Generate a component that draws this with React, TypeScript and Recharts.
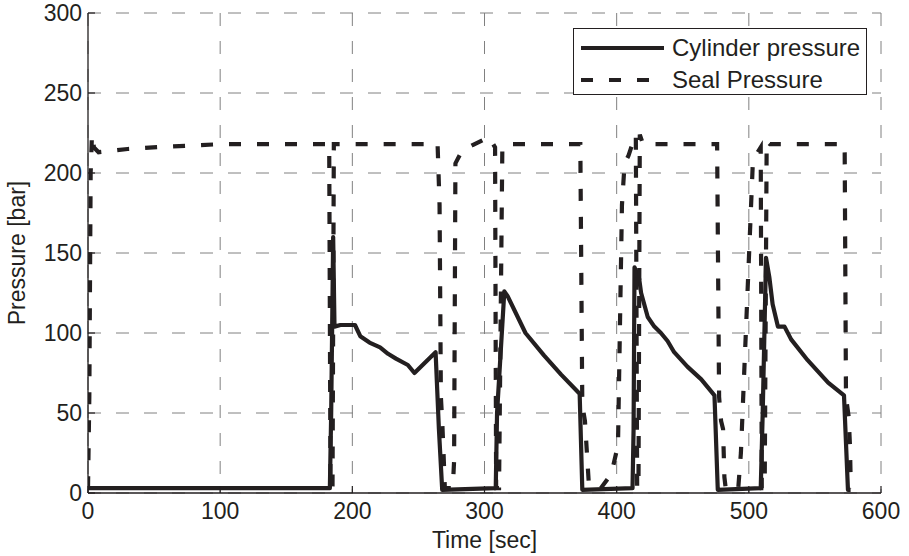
import React from 'react';
import { LineChart, Line, XAxis, YAxis, CartesianGrid, Legend, Label } from 'recharts';

// cylinder pressure trace [sec] / [bar]
const cylTime = [0, 183, 184, 185.5, 186.5, 191, 202, 206, 213, 221, 227, 233, 242, 247, 263, 265.5, 268, 308.5, 309.5, 315, 317.5, 331, 345, 358, 372, 374, 412, 412.8, 413.5, 417, 418.5, 423.5, 428.5, 433.5, 438.5, 443.5, 453.5, 464, 474, 476.5, 509, 510.5, 513, 515.5, 518, 522, 527, 532, 544.5, 560, 572, 575, 577];
const cylPressure = [3, 3, 50, 160, 104, 105, 105, 98, 94, 91, 87, 84, 80, 75, 88, 40, 2, 3, 50, 126, 123, 100, 86, 74, 62, 2, 3, 40, 141, 134, 125, 110, 104, 100, 95, 88, 79, 71, 61, 2, 3, 50, 147, 135, 118, 104, 104, 96, 83, 69, 61, 2, 2];

// seal pressure trace
const sealTime = [0, 1, 2, 3, 4.5, 8, 30, 60, 100, 182.5, 183.5, 185, 186, 190, 264.5, 266, 267, 268, 269, 270, 276, 277, 278, 283, 291, 303.5, 308, 308.8, 311, 313.5, 316, 372.5, 374, 376, 377.5, 379, 388, 396, 401, 404, 406, 409, 411, 413.5, 414.5, 415.5, 416.5, 417.5, 420, 476, 477.5, 479, 480.5, 481.5, 482.5, 492, 494, 503, 506, 509, 509.8, 512, 513.5, 516, 572.5, 573.5, 575.5, 576.5, 577, 576];
const sealPressure = [3, 60, 200, 224, 216, 213, 215, 216.5, 218, 218, 3, 3, 218, 218, 218, 180, 60, 45, 25, 3, 3, 20, 206, 214, 217.5, 222.5, 216, 3, 3, 216, 218, 218, 55, 45, 25, 5, 3, 12, 30, 180, 206, 211, 216, 221, 224, 3, 3, 224, 218, 218, 60, 45, 40, 10, 3, 3, 25, 206, 212, 216, 3, 3, 220, 218, 218, 60, 48, 30, 10, 3];

const timeTicks = [0, 100, 200, 300, 400, 500, 600];
const pressureTicks = [0, 50, 100, 150, 200, 250, 300];

const seriesNames = ['Cylinder pressure', 'Seal Pressure'];
const seriesDash = ['', '12 16'];

const cylData = cylTime.map((t, i) => ({ t, p: cylPressure[i] }));
const sealData = sealTime.map((t, i) => ({ t, p: sealPressure[i] }));

const INK = '#231f20';
const FONT = '"Liberation Sans", Arial, Helvetica, sans-serif';
const FS = 23;
const TICK = 7;

// matlab style ticks: pointing into the plot
const BottomTick = (props: any) => {
  const { x, y, payload } = props;
  const axisY = y - 9;
  return (
    <g>
      <line x1={x} x2={x} y1={axisY} y2={axisY - TICK} stroke={INK} strokeWidth={1.2} />
      <text x={x} y={y} dy="0.72em" textAnchor="middle" fill={INK} fontSize={FS} fontFamily={FONT}>
        {payload.value}
      </text>
    </g>
  );
};

const LeftTick = (props: any) => {
  const { x, y, payload } = props;
  const axisX = x + 6;
  return (
    <g>
      <line x1={axisX} x2={axisX + TICK} y1={y} y2={y} stroke={INK} strokeWidth={1.2} />
      <text x={x} y={y} dy="0.36em" textAnchor="end" fill={INK} fontSize={FS} fontFamily={FONT}>
        {payload.value}
      </text>
    </g>
  );
};

const TopTick = (props: any) => {
  const { x, y } = props;
  return <line x1={x} x2={x} y1={y} y2={y + TICK} stroke={INK} strokeWidth={1.2} />;
};

const RightTick = (props: any) => {
  const { x, y } = props;
  return <line x1={x - TICK} x2={x} y1={y} y2={y} stroke={INK} strokeWidth={1.2} />;
};

const LegendBox = () => (
  <div
    style={{
      position: 'relative',
      width: 292,
      height: 65,
      border: `1px solid ${INK}`,
      background: '#fff',
      fontFamily: FONT,
      fontSize: 24,
      color: INK,
    }}
  >
    {seriesNames.map((name, i) => (
      <div key={name} style={{ position: 'absolute', left: 0, top: 3 + i * 32, height: 32, width: 292 }}>
        <svg width={92} height={32} style={{ position: 'absolute', left: 0, top: 0 }}>
          <line x1={7} x2={90} y1={16} y2={16} stroke={INK} strokeWidth={4.2} strokeDasharray={seriesDash[i] || undefined} />
        </svg>
        <span style={{ position: 'absolute', left: 98, top: 2, lineHeight: '28px', whiteSpace: 'nowrap' }}>{name}</span>
      </div>
    ))}
  </div>
);

export default function App() {
  return (
    <div style={{ position: 'absolute', left: 0, top: 0, background: '#fff' }}>
      <LineChart width={909} height={556} margin={{ top: 13, right: 28, left: 0, bottom: 0 }}>
        <CartesianGrid stroke="#808080" strokeDasharray="13 15" strokeWidth={1} />
        <XAxis
          type="number"
          dataKey="t"
          domain={[0, 600]}
          ticks={timeTicks}
          interval={0}
          allowDataOverflow
          height={63}
          tickSize={0}
          tickMargin={9}
          tickLine={false}
          axisLine={{ stroke: INK, strokeWidth: 1.3 }}
          tick={<BottomTick />}
        >
          <Label
            content={(lp: any) => {
              const vb = lp.viewBox;
              return (
                <text x={vb.x + vb.width / 2} y={vb.y + 55} textAnchor="middle" fill={INK} fontSize={FS} fontFamily={FONT}>
                  Time [sec]
                </text>
              );
            }}
          />
        </XAxis>
        <XAxis
          xAxisId="top"
          orientation="top"
          type="number"
          domain={[0, 600]}
          ticks={timeTicks}
          interval={0}
          allowDataOverflow
          height={0}
          tickSize={0}
          tickMargin={0}
          tickLine={false}
          axisLine={{ stroke: INK, strokeWidth: 1.3 }}
          tick={<TopTick />}
        />
        <YAxis
          type="number"
          domain={[0, 300]}
          ticks={pressureTicks}
          interval={0}
          allowDataOverflow
          width={88}
          tickSize={0}
          tickMargin={6}
          tickLine={false}
          axisLine={{ stroke: INK, strokeWidth: 1.3 }}
          tick={<LeftTick />}
        >
          <Label
            content={(lp: any) => {
              const vb = lp.viewBox;
              const cy = vb.y + vb.height / 2;
              return (
                <text x={25} y={cy} transform={`rotate(-90, 25, ${cy})`} textAnchor="middle" fill={INK} fontSize={FS} fontFamily={FONT}>
                  Pressure [bar]
                </text>
              );
            }}
          />
        </YAxis>
        <YAxis
          yAxisId="right"
          orientation="right"
          type="number"
          domain={[0, 300]}
          ticks={pressureTicks}
          interval={0}
          allowDataOverflow
          width={0}
          tickSize={0}
          tickMargin={0}
          tickLine={false}
          axisLine={{ stroke: INK, strokeWidth: 1.3 }}
          tick={<RightTick />}
        />
        <Line
          data={cylData}
          dataKey="p"
          name={seriesNames[0]}
          type="linear"
          stroke={INK}
          strokeWidth={4.2}
          strokeLinejoin="round"
          dot={false}
          isAnimationActive={false}
        />
        <Line
          data={sealData}
          dataKey="p"
          name={seriesNames[1]}
          type="linear"
          stroke={INK}
          strokeWidth={4.2}
          strokeDasharray={seriesDash[1]}
          dot={false}
          isAnimationActive={false}
        />
        <Legend
          layout="vertical"
          align="center"
          verticalAlign="middle"
          content={() => <LegendBox />}
          wrapperStyle={{ left: 573, top: 28, width: 294, height: 67 }}
        />
      </LineChart>
    </div>
  );
}
